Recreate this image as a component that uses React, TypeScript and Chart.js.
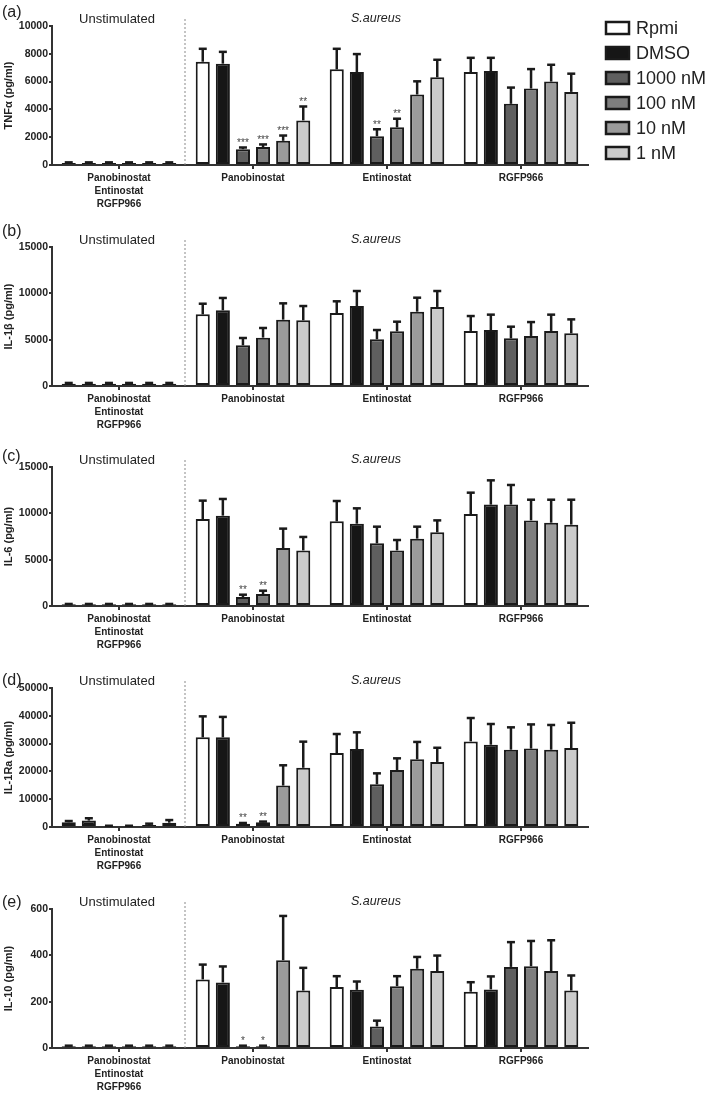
import React, { useEffect, useRef } from 'react';
import { Chart, registerables } from 'chart.js';

Chart.register(...registerables);

const FONT = '"Liberation Sans", Arial, Helvetica, sans-serif';

// ---- categories / series ----
const groupLabels: (string | string[])[] = [
  ['Panobinostat', 'Entinostat', 'RGFP966'],
  'Panobinostat',
  'Entinostat',
  'RGFP966',
];
const seriesNames = ['Rpmi', 'DMSO', '1000 nM', '100 nM', '10 nM', '1 nM'];
const seriesColors = ['#ffffff', '#161616', '#5f5f5f', '#7e7e7e', '#9b9b9b', '#cbcbcb'];

// ---- (a) TNFα : per series, values for [Unstim, Pano, Ent, RGFP] ----
const tnfMean = [
  [150, 7430, 6880, 6690],
  [150, 7290, 6690, 6760],
  [150, 1140, 2070, 4400],
  [150, 1290, 2710, 5500],
  [150, 1740, 5070, 6000],
  [150, 3210, 6310, 5260],
];
const tnfErr = [
  [40, 930, 1480, 1020],
  [40, 850, 1290, 950],
  [40, 120, 500, 1170],
  [40, 190, 620, 1400],
  [40, 380, 950, 1210],
  [40, 1000, 1260, 1310],
];
const tnfStars = [
  ['', '', '', ''],
  ['', '', '', ''],
  ['', '***', '**', ''],
  ['', '***', '**', ''],
  ['', '***', '', ''],
  ['', '**', '', ''],
];
const tnfTicks = [0, 2000, 4000, 6000, 8000, 10000];

// ---- (b) IL-1β ----
const il1bMean = [
  [250, 7730, 7880, 5940],
  [250, 8170, 8630, 6040],
  [250, 4390, 5040, 5140],
  [250, 5220, 5900, 5400],
  [250, 7160, 8020, 5940],
  [250, 7090, 8530, 5680],
];
const il1bErr = [
  [80, 1150, 1260, 1610],
  [80, 1330, 1620, 1660],
  [80, 790, 1000, 1260],
  [80, 1040, 1040, 1500],
  [80, 1760, 1510, 1760],
  [80, 1540, 1720, 1510],
];
const il1bStars = [
  ['', '', '', ''],
  ['', '', '', ''],
  ['', '', '', ''],
  ['', '', '', ''],
  ['', '', '', ''],
  ['', '', '', ''],
];
const il1bTicks = [0, 5000, 10000, 15000];

// ---- (c) IL-6 ----
const il6Mean = [
  [180, 9390, 9140, 9930],
  [180, 9750, 8880, 10940],
  [180, 970, 6760, 10940],
  [180, 1290, 6000, 9240],
  [180, 6260, 7270, 8990],
  [180, 6000, 7950, 8780],
];
const il6Err = [
  [40, 1980, 2190, 2300],
  [40, 1800, 1660, 2620],
  [40, 250, 1800, 2120],
  [40, 360, 1120, 2230],
  [40, 2090, 1290, 2480],
  [40, 1450, 1290, 2690],
];
const il6Stars = [
  ['', '', '', ''],
  ['', '', '', ''],
  ['', '**', '', ''],
  ['', '**', '', ''],
  ['', '', '', ''],
  ['', '', '', ''],
];
const il6Ticks = [0, 5000, 10000, 15000];

// ---- (d) IL-1Ra ----
const il1raMean = [
  [1700, 32250, 26600, 30800],
  [2300, 32250, 28050, 29600],
  [350, 1200, 15350, 27800],
  [350, 1700, 20500, 28200],
  [700, 14900, 24350, 27800],
  [1550, 21300, 23400, 28400],
];
const il1raErr = [
  [450, 7550, 6850, 8400],
  [850, 7350, 6000, 7450],
  [100, 250, 3950, 8050],
  [100, 250, 4200, 8700],
  [500, 7300, 6250, 8900],
  [950, 9400, 5100, 9100],
];
const il1raStars = [
  ['', '', '', ''],
  ['', '', '', ''],
  ['', '**', '', ''],
  ['', '**', '', ''],
  ['', '', '', ''],
  ['', '', '', ''],
];
const il1raTicks = [0, 10000, 20000, 30000, 40000, 50000];

// ---- (e) IL-10 ----
const il10Mean = [
  [8, 296, 263, 243],
  [8, 283, 251, 253],
  [8, 8, 93, 350],
  [8, 8, 267, 353],
  [8, 379, 342, 332],
  [8, 248, 332, 248],
];
const il10Err = [
  [2, 64, 47, 41],
  [2, 69, 36, 56],
  [2, 2, 25, 107],
  [2, 2, 43, 109],
  [2, 191, 51, 133],
  [2, 98, 67, 65],
];
const il10Stars = [
  ['', '', '', ''],
  ['', '', '', ''],
  ['', '*', '', ''],
  ['', '*', '', ''],
  ['', '', '', ''],
  ['', '', '', ''],
];
const il10Ticks = [0, 200, 400, 600];

// ---- layout (positions only) ----
const PLOT_TOP = 26;
const PLOT_H = 139;
const Y_AXIS_W = 52;
const PLOT_RIGHT = 588;
const W = 709;

type Panel = {
  letter: string;
  title: string;
  mean: number[][];
  err: number[][];
  stars: string[][];
  ticks: number[];
  top: number;
  height: number;
  letterDy: number;
  legend: boolean;
};

const panels: Panel[] = [
  { letter: '(a)', title: 'TNFα (pg/ml)', mean: tnfMean, err: tnfErr, stars: tnfStars, ticks: tnfTicks, top: 0, height: 221, letterDy: -13, legend: true },
  { letter: '(b)', title: 'IL-1β (pg/ml)', mean: il1bMean, err: il1bErr, stars: il1bStars, ticks: il1bTicks, top: 221, height: 220, letterDy: -15, legend: false },
  { letter: '(c)', title: 'IL-6 (pg/ml)', mean: il6Mean, err: il6Err, stars: il6Stars, ticks: il6Ticks, top: 441, height: 221, letterDy: -10, legend: false },
  { letter: '(d)', title: 'IL-1Ra (pg/ml)', mean: il1raMean, err: il1raErr, stars: il1raStars, ticks: il1raTicks, top: 662, height: 221, letterDy: -7, legend: false },
  { letter: '(e)', title: 'IL-10 (pg/ml)', mean: il10Mean, err: il10Err, stars: il10Stars, ticks: il10Ticks, top: 883, height: 211, letterDy: -6, legend: false },
];

function PanelChart({ p }: { p: Panel }) {
  const ref = useRef<HTMLCanvasElement | null>(null);

  useEffect(() => {
    if (!ref.current) return;
    const max = p.ticks[p.ticks.length - 1];
    const step = p.ticks[1] - p.ticks[0];

    const overlay = {
      id: 'overlay' + p.letter,
      afterDatasetsDraw(chart: any) {
        const ctx = chart.ctx as CanvasRenderingContext2D;
        const { top, bottom } = chart.chartArea;
        const ys = chart.scales.y;
        const xs = chart.scales.x;
        ctx.save();
        // error bars + significance
        chart.data.datasets.forEach((ds: any, i: number) => {
          const meta = chart.getDatasetMeta(i);
          meta.data.forEach((el: any, j: number) => {
            const v = ds.data[j] as number;
            const e = p.err[i][j];
            const yTop = ys.getPixelForValue(v);
            const yCap = ys.getPixelForValue(v + e);
            ctx.strokeStyle = '#1a1a1a';
            ctx.lineWidth = 2.5;
            ctx.lineCap = 'butt';
            ctx.beginPath();
            ctx.moveTo(el.x, yTop);
            ctx.lineTo(el.x, yCap);
            ctx.stroke();
            ctx.beginPath();
            ctx.moveTo(el.x - 4, yCap);
            ctx.lineTo(el.x + 4, yCap);
            ctx.stroke();
            const s = p.stars[i][j];
            if (s) {
              ctx.font = `10px ${FONT}`;
              ctx.fillStyle = '#444';
              ctx.textAlign = 'center';
              ctx.textBaseline = 'alphabetic';
              ctx.fillText(s, el.x, yCap - 1.5);
            }
          });
        });
        // dashed separator
        const xd = (xs.getPixelForValue(0) + xs.getPixelForValue(1)) / 2 - 1;
        ctx.strokeStyle = '#8a8a8a';
        ctx.lineWidth = 1;
        ctx.setLineDash([2, 2]);
        ctx.beginPath();
        ctx.moveTo(xd, top - 7);
        ctx.lineTo(xd, bottom);
        ctx.stroke();
        ctx.setLineDash([]);
        // condition headers
        ctx.fillStyle = '#222';
        ctx.textAlign = 'center';
        ctx.textBaseline = 'middle';
        ctx.font = `13px ${FONT}`;
        ctx.fillText('Unstimulated', 117, top - 7);
        ctx.font = `italic 12.5px ${FONT}`;
        ctx.fillText('S.aureus', 376, top - 7);
        // panel letter
        ctx.textAlign = 'left';
        ctx.font = `16px ${FONT}`;
        ctx.fillText(p.letter, 2, top + p.letterDy);
        // legend
        if (p.legend) {
          chart.data.datasets.forEach((ds: any, i: number) => {
            const ry = 28 + i * 25;
            ctx.fillStyle = ds.backgroundColor;
            ctx.fillRect(606, ry - 6, 23, 12);
            ctx.strokeStyle = '#1a1a1a';
            ctx.lineWidth = 2.5;
            ctx.strokeRect(606, ry - 6, 23, 12);
            ctx.fillStyle = '#222';
            ctx.font = `18px ${FONT}`;
            ctx.textAlign = 'left';
            ctx.textBaseline = 'middle';
            ctx.fillText(ds.label, 636, ry + 1);
          });
        }
        ctx.restore();
      },
    };

    const chart = new Chart(ref.current, {
      type: 'bar',
      data: {
        labels: groupLabels as any,
        datasets: seriesNames.map((name, i) => ({
          label: name,
          data: p.mean[i],
          backgroundColor: seriesColors[i],
          borderColor: '#1a1a1a',
          borderWidth: 2,
          borderSkipped: false,
          categoryPercentage: 0.9,
          barPercentage: 0.7,
        })),
      },
      options: {
        responsive: false,
        animation: false,
        devicePixelRatio: 1,
        layout: { padding: { left: 0, top: PLOT_TOP, right: W - PLOT_RIGHT, bottom: 0 } },
        plugins: { legend: { display: false }, tooltip: { enabled: false } },
        scales: {
          x: {
            grid: { offset: false, drawOnChartArea: false, drawTicks: true, tickLength: 4, lineWidth: 2, color: '#333' },
            border: { display: true, color: '#333', width: 2 },
            ticks: {
              color: '#222',
              font: { family: FONT, size: 10, weight: 'bold', lineHeight: '13px' } as any,
              padding: 3,
              maxRotation: 0,
              minRotation: 0,
              autoSkip: false,
            },
            afterFit: (s: any) => {
              s.height = p.height - PLOT_TOP - PLOT_H;
            },
          },
          y: {
            min: 0,
            max,
            grid: { drawOnChartArea: false, drawTicks: true, tickLength: 3, lineWidth: 2, color: '#333' },
            border: { display: true, color: '#333', width: 2 },
            ticks: {
              stepSize: step,
              color: '#222',
              padding: 1,
              font: { family: FONT, size: 10.5, weight: 'bold' } as any,
              callback: (v: any) => String(v),
            },
            title: {
              display: true,
              text: p.title,
              color: '#222',
              font: { family: FONT, size: 11, weight: 'bold' } as any,
              padding: { top: 2, bottom: 0 },
            },
            afterFit: (s: any) => {
              s.width = Y_AXIS_W;
            },
          },
        },
      } as any,
      plugins: [overlay as any],
    });
    return () => chart.destroy();
  }, [p]);

  return (
    <canvas
      ref={ref}
      width={W}
      height={p.height}
      style={{ position: 'absolute', left: 0, top: p.top, width: W, height: p.height, display: 'block' }}
    />
  );
}

export default function App() {
  return (
    <div style={{ position: 'absolute', left: 0, top: 0, width: W, height: 1094, background: '#ffffff', overflow: 'hidden' }}>
      {panels.map((p) => (
        <PanelChart key={p.letter} p={p} />
      ))}
    </div>
  );
}
